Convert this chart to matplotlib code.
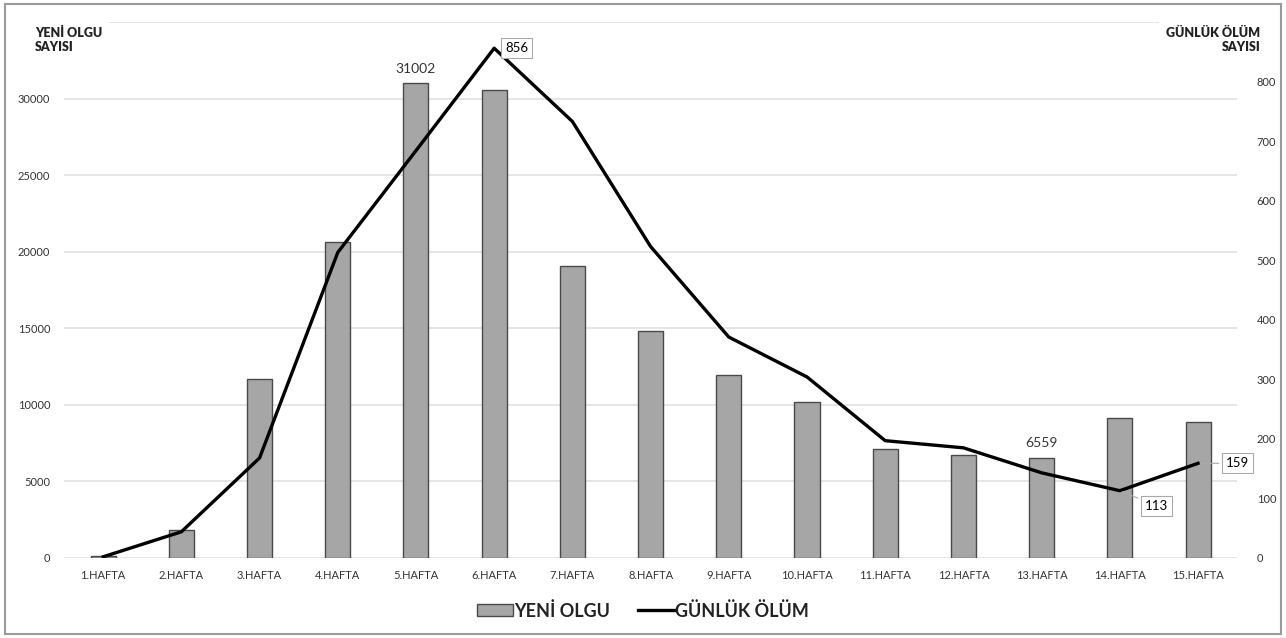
import numpy as np
import matplotlib.pyplot as plt
from matplotlib.patches import Rectangle

weeks = [f'{i}.HAFTA' for i in range(1, 16)]
yeni_olgu = [150, 1800, 11660, 20640, 31002, 30540, 19070, 14810,
             11930, 10160, 7140, 6750, 6559, 9170, 8850]
gunluk_olum = [2, 44, 168, 513, 684, 856, 733, 523, 371, 304, 197, 185, 143, 113, 159]

plt.rcParams['font.family'] = ['Lato', 'DejaVu Sans']

fig = plt.figure(figsize=(12.86, 6.38), dpi=100)
fig.patches.append(Rectangle((0.004, 0.006), 0.992, 0.988, transform=fig.transFigure,
                             fill=False, edgecolor='#9a9a9a', linewidth=1.5))
ax = fig.add_axes([0.0498, 0.1254, 0.9122, 0.8401])
ax2 = ax.twinx()

x = np.arange(len(weeks))
ax.bar(x, yeni_olgu, width=0.32, color='#a6a6a6', edgecolor='#4a4a4a', linewidth=1.0,
       zorder=2, label='YENİ OLGU')
ax.set_xlim(-0.5, len(weeks) - 0.5)
ax.set_ylim(0, 35000)
ax.set_yticks(np.arange(0, 35001, 5000))
ax.set_yticklabels([str(v) for v in range(0, 30001, 5000)] + [''])
ax.yaxis.grid(True, color='#e3e3e3', linewidth=1.3, zorder=0)
ax.set_axisbelow(True)
ax.set_xticks(x)
ax.set_xticklabels(weeks, fontsize=8, color='#333333')
ax.tick_params(axis='both', length=0, labelsize=8, colors='#333333')
ax.tick_params(axis='y', pad=10)
ax.tick_params(axis='x', pad=9)
for s in ax.spines.values():
    s.set_visible(False)

ax2.plot(x, gunluk_olum, color='black', linewidth=2.4, zorder=3, label='GÜNLÜK ÖLÜM')
ax2.set_ylim(0, 900)
ax2.set_yticks(np.arange(0, 801, 100))
ax2.tick_params(axis='y', length=0, labelsize=8, colors='#333333', pad=14)
for s in ax2.spines.values():
    s.set_visible(False)

# data labels
for i in (4, 12):
    ax.annotate(str(yeni_olgu[i]), (x[i], yeni_olgu[i]), xytext=(0, 6),
                textcoords='offset points', ha='center', va='bottom', fontsize=10,
                color='#333333')

box = dict(boxstyle='square,pad=0.3', facecolor='white', edgecolor='#aaaaaa', linewidth=0.8)
ax2.annotate(str(gunluk_olum[5]), (x[5], gunluk_olum[5]), xytext=(8, 0),
             textcoords='offset points', ha='left', va='center', fontsize=9.5, bbox=box)
ax2.annotate(str(gunluk_olum[13]), (x[13], gunluk_olum[13]), xytext=(18, -11),
             textcoords='offset points', ha='left', va='center', fontsize=9.5, bbox=box,
             arrowprops=dict(arrowstyle='-', color='#aaaaaa', linewidth=0.8))
ax2.annotate(str(gunluk_olum[14]), (x[14], gunluk_olum[14]), xytext=(20, 0),
             textcoords='offset points', ha='left', va='center', fontsize=9.5, bbox=box,
             arrowprops=dict(arrowstyle='-', color='#aaaaaa', linewidth=0.8))

# axis titles (white box hides the top gridline behind them)
title_box = dict(boxstyle='square,pad=0.6', facecolor='white', edgecolor='none')
fig.text(0.027, 0.958, 'YENİ OLGU\nSAYISI', fontsize=9, fontweight='heavy',
         ha='left', va='top', linespacing=1.2, color='#222222', bbox=title_box)
fig.text(0.980, 0.958, 'GÜNLÜK ÖLÜM\nSAYISI', fontsize=9, fontweight='heavy',
         ha='right', va='top', linespacing=1.2, color='#222222', multialignment='right',
         bbox=title_box)

h1, l1 = ax.get_legend_handles_labels()
h2, l2 = ax2.get_legend_handles_labels()
fig.legend(h1 + h2, l1 + l2, loc='center', bbox_to_anchor=(0.5, 0.043), ncol=2,
           frameon=False, prop={'size': 13, 'weight': 'bold'}, handlelength=2.0,
           handleheight=0.6, handletextpad=0.1, columnspacing=1.5, labelcolor='#222222')

fig.savefig('out.png', dpi=100)
